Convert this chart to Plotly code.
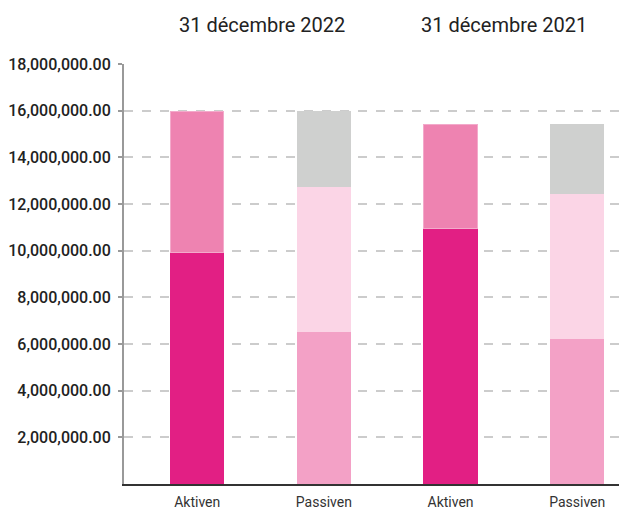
import plotly.graph_objects as go

categories = ["Aktiven 2022", "Passiven 2022", "Aktiven 2021", "Passiven 2021"]
tick_labels = ["Aktiven", "Passiven", "Aktiven", "Passiven"]
group_labels = ["31 décembre 2022", "31 décembre 2021"]

aktiven_lower = [9.93e6, None, 10.94e6, None]
aktiven_upper = [6.03e6, None, 4.45e6, None]
passiven_lower = [None, 6.54e6, None, 6.23e6]
passiven_middle = [None, 6.19e6, None, 6.20e6]
passiven_upper = [None, 3.23e6, None, 2.96e6]

y_ticks = [2e6, 4e6, 6e6, 8e6, 10e6, 12e6, 14e6, 16e6, 18e6]

series = [
    (aktiven_lower, "#E21F84", "#E21F84"),
    (aktiven_upper, "#EE83B1", "#F3AACB"),
    (passiven_lower, "#F3A1C6", "#F3A1C6"),
    (passiven_middle, "#FBD5E6", "#FBD5E6"),
    (passiven_upper, "#CFD0CF", "#CFD0CF"),
]

fig = go.Figure()
for vals, col, lc in series:
    fig.add_trace(go.Bar(
        x=categories, y=vals, width=0.42,
        marker=dict(color=col, line=dict(color=lc, width=1)),
        showlegend=False, hoverinfo="skip",
    ))

fig.update_layout(
    barmode="stack",
    width=619, height=511,
    margin=dict(l=124, r=0, t=64, b=27, autoexpand=False),
    plot_bgcolor="white", paper_bgcolor="white",
    font=dict(family="Roboto, sans-serif", color="#222"),
    xaxis=dict(
        type="category", range=[-0.578, 3.33], automargin=False,
        tickmode="array", tickvals=categories, ticktext=tick_labels,
        tickfont=dict(size=14, color="#333"),
        showgrid=False, showline=True, linecolor="#333", linewidth=1.5,
        ticks="", ticklabelstandoff=4,
    ),
    yaxis=dict(
        range=[0, 18e6], tickmode="array", tickvals=y_ticks, automargin=False,
        ticktext=[f"{v:,.2f}" for v in y_ticks],
        tickfont=dict(size=16, color="#222", weight=500),
        showgrid=True, gridcolor="#CCCCCC", griddash="dash", gridwidth=1.5,
        showline=True, linecolor="#999999", linewidth=2,
        ticks="outside", ticklen=4, tickcolor="#999999", tickwidth=1.5,
        zeroline=False, ticklabelstandoff=4,
    ),
)

for label, xp in zip(group_labels, [0.279, 0.768]):
    fig.add_annotation(
        text=label, xref="paper", yref="paper", x=xp, y=1.093,
        xanchor="center", yanchor="middle", showarrow=False,
        font=dict(size=20, color="#222"),
    )

fig.write_html(
    "out.html",
    config={"displayModeBar": False},
    post_script="document.body.style.margin='0';document.body.style.overflow='hidden';",
)
